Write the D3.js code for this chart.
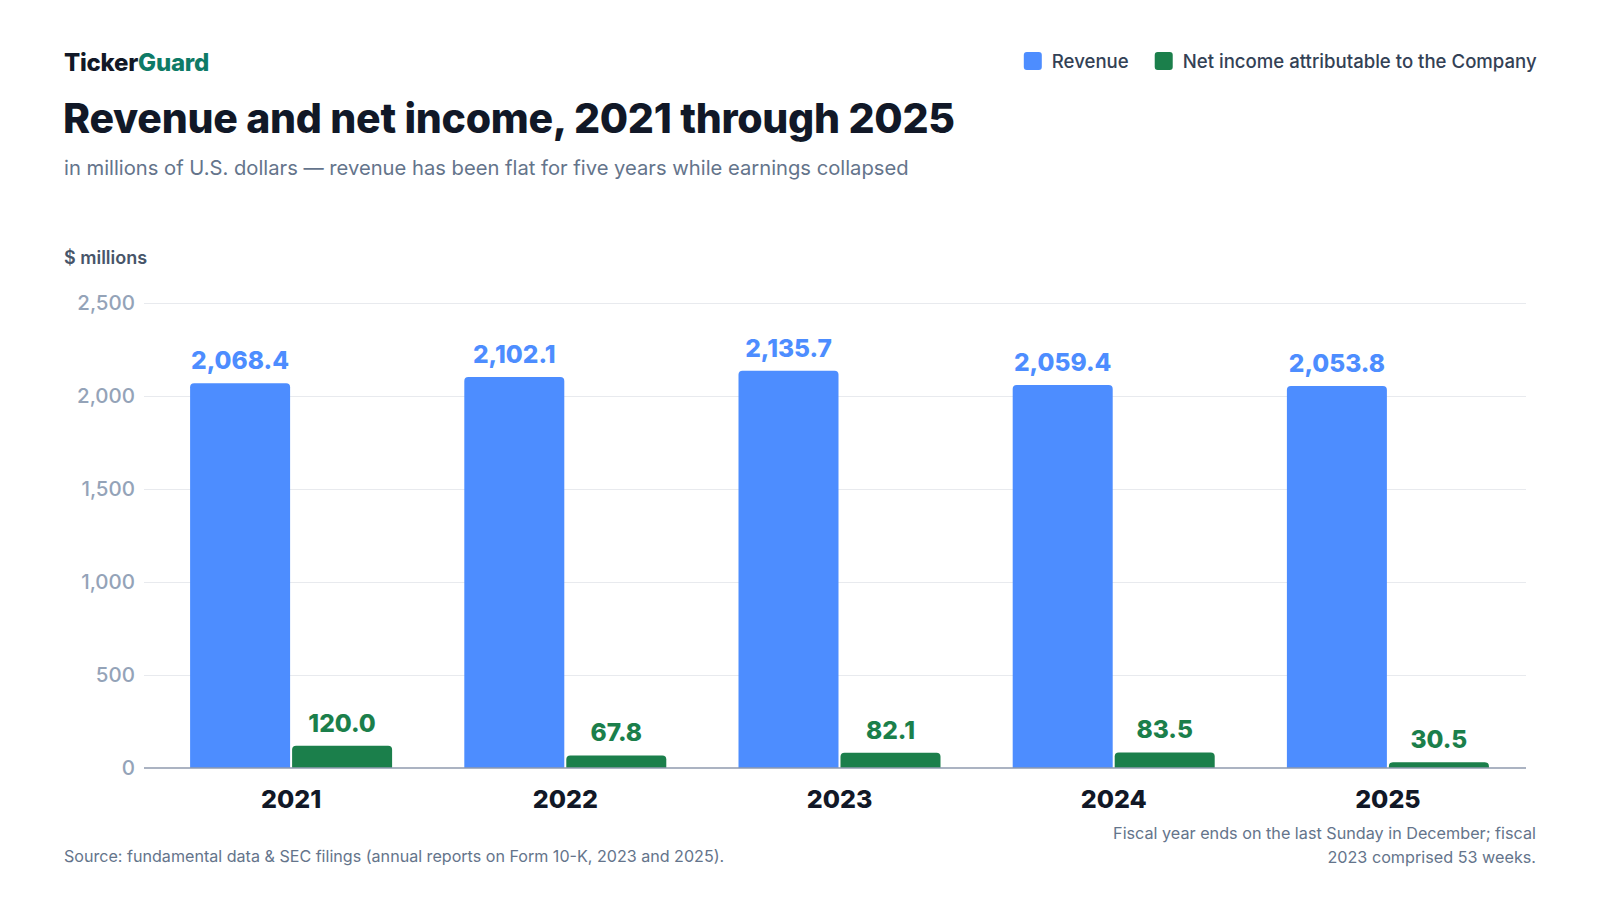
<!DOCTYPE html>
<html>
<head>
<meta charset="utf-8">
<script src="https://cdn.jsdelivr.net/npm/d3@7"></script>
<style>
  html, body { margin: 0; padding: 0; background: #fff; }
  svg { display: block; font-family: Inter, "Noto Sans", sans-serif; }
</style>
</head>
<body>
<svg id="viz" width="1600" height="900"></svg>
<script>
// data
var years = ["2021", "2022", "2023", "2024", "2025"];
var revenue = [2068.4, 2102.1, 2135.7, 2059.4, 2053.8];
var netIncome = [120.0, 67.8, 82.1, 83.5, 30.5];
var yTicks = [0, 500, 1000, 1500, 2000, 2500];
var seriesNames = ["Revenue", "Net income attributable to the Company"];
var seriesColors = ["#4d8dff", "#1b7f4b"];

var svg = d3.select("#viz");
var plot = { left: 144, right: 1526, top: 303, bottom: 768 };

var x = d3.scaleBand()
    .domain(years)
    .range([154, 1525])
    .paddingInner(0.264)
    .paddingOuter(0.132);
var barW = 100, gap = 2;

var y = d3.scaleLinear()
    .domain([0, 2500])
    .range([plot.bottom, plot.top]);

// header
var brand = svg.append("text")
    .attr("x", 64).attr("y", 70.5)
    .style("font-size", "24px").style("font-weight", 800)
    .style("letter-spacing", "-0.01em");
brand.append("tspan").attr("fill", "#111827").text("Ticker");
brand.append("tspan").attr("fill", "#0e7b67").text("Guard");

svg.append("text")
    .attr("x", 63).attr("y", 132.5)
    .attr("fill", "#111827")
    .style("font-size", "41px").style("font-weight", 800)
    .style("letter-spacing", "-0.007em")
    .text("Revenue and net income, 2021 through 2025");

svg.append("text")
    .attr("x", 64).attr("y", 175)
    .attr("fill", "#64748b")
    .style("font-size", "20.2px")
    .text("in millions of U.S. dollars \u2014 revenue has been flat for five years while earnings collapsed");

// legend, right aligned
var legend = svg.append("g");
var lx = 1021;
seriesNames.forEach(function (name, i) {
    var g = legend.append("g").attr("transform", "translate(" + lx + ",0)");
    g.append("rect")
        .attr("x", 0).attr("y", 52)
        .attr("width", 18).attr("height", 18)
        .attr("rx", 3)
        .attr("fill", seriesColors[i]);
    var t = g.append("text")
        .attr("x", 28).attr("y", 67.5)
        .attr("fill", "#334155")
        .style("font-size", "18.6px").style("font-weight", 500)
        .text(name);
    lx += 28 + t.node().getComputedTextLength() + 26;
});
// shift legend so it ends at the right margin
var lb = legend.node().getBBox();
legend.attr("transform", "translate(" + (1537 - (lb.x + lb.width)) + ",0)");

// y axis label
svg.append("text")
    .attr("x", 64).attr("y", 264)
    .attr("fill", "#475569")
    .style("font-size", "18px").style("font-weight", 600)
    .text("$ millions");

// gridlines and tick labels
var yAxis = svg.append("g")
    .attr("transform", "translate(" + plot.left + ",0)")
    .call(d3.axisLeft(y)
        .tickValues(yTicks)
        .tickSize(-(plot.right - plot.left))
        .tickPadding(9)
        .tickFormat(d3.format(",")));
yAxis.select(".domain").remove();
yAxis.selectAll(".tick line")
    .attr("stroke", "#e8eaee")
    .attr("stroke-width", 1);
yAxis.selectAll(".tick text")
    .attr("fill", "#94a3b8")
    .style("font-size", "20.5px")
    .style("font-weight", 500)
    .style("font-family", "Inter, sans-serif");
yAxis.selectAll(".tick").filter(function (d) { return d === 0; })
    .select("line").remove();

// bars with rounded top corners
function topRounded(x0, y0, w, h, r) {
    r = Math.min(r, h, w / 2);
    return "M" + x0 + "," + (y0 + h) +
        "V" + (y0 + r) +
        "Q" + x0 + "," + y0 + " " + (x0 + r) + "," + y0 +
        "H" + (x0 + w - r) +
        "Q" + (x0 + w) + "," + y0 + " " + (x0 + w) + "," + (y0 + r) +
        "V" + (y0 + h) + "Z";
}

var rows = years.map(function (yr, i) {
    return { year: yr, values: [revenue[i], netIncome[i]] };
});

var groups = svg.selectAll(".year")
    .data(rows)
    .enter().append("g")
    .attr("class", "year");

groups.each(function (d) {
    var g = d3.select(this);
    var cx = x(d.year) + x.bandwidth() / 2;
    d.values.forEach(function (v, k) {
        var bx = k === 0 ? cx - gap / 2 - barW : cx + gap / 2;
        g.append("path")
            .attr("d", topRounded(bx, y(v), barW, y(0) - y(v), 4))
            .attr("fill", seriesColors[k]);
        g.append("text")
            .attr("x", bx + barW / 2)
            .attr("y", y(v) - 14)
            .attr("text-anchor", "middle")
            .attr("fill", seriesColors[k])
            .style("font-size", "24.5px").style("font-weight", 800)
            .text(d3.format(",.1f")(v));
    });
});

// baseline
svg.append("line")
    .attr("x1", plot.left).attr("x2", plot.right)
    .attr("y1", y(0)).attr("y2", y(0))
    .attr("stroke", "#8f9aae")
    .attr("stroke-width", 1.5);

// x axis labels
var xAxis = svg.append("g")
    .attr("transform", "translate(0," + y(0) + ")")
    .call(d3.axisBottom(x).tickSize(0).tickPadding(22));
xAxis.select(".domain").remove();
xAxis.selectAll(".tick text")
    .attr("fill", "#111827")
    .attr("dy", "0.71em")
    .style("font-size", "25px").style("font-weight", 800)
    .style("font-family", "Inter, sans-serif");

// footer
svg.append("text")
    .attr("x", 64).attr("y", 862)
    .attr("fill", "#64748b")
    .style("font-size", "16.1px")
    .text("Source: fundamental data & SEC filings (annual reports on Form 10-K, 2023 and 2025).");

var note = svg.append("text")
    .attr("text-anchor", "end")
    .attr("fill", "#64748b")
    .style("font-size", "16.2px");
note.append("tspan").attr("x", 1536).attr("y", 838.5)
    .text("Fiscal year ends on the last Sunday in December; fiscal");
note.append("tspan").attr("x", 1536).attr("y", 862.5)
    .text("2023 comprised 53 weeks.");
</script>
</body>
</html>
